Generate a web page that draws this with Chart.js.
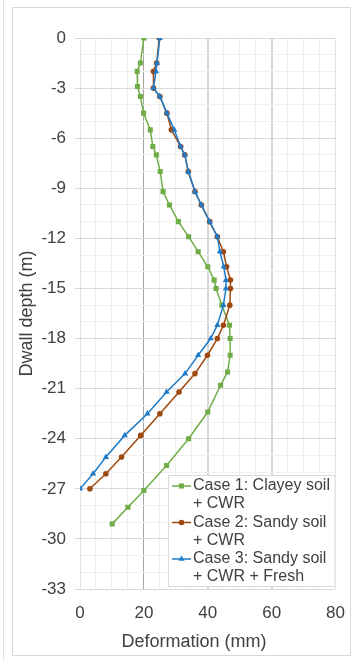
<!DOCTYPE html>
<html lang="en">
<head>
    <meta charset="UTF-8">
    <title>Dwall deformation</title>
    <style>
        body {
            margin: 0;
            background: #fff;
            font-family: "Liberation Sans", Arial, sans-serif;
        }
        .wrap {
            position: relative;
            width: 359px;
            height: 661px;
            overflow: hidden;
        }
        .edge {
            position: absolute;
            left: 3px;
            top: 0;
            bottom: 0;
            border-left: 1px solid #e3e3e3;
        }
        .frame {
            position: absolute;
            left: 12px;
            top: 7px;
            width: 337px;
            height: 647px;
            border: 1px solid #d9d9d9;
        }
        canvas {
            position: absolute;
            left: 0;
            top: 0;
        }
    </style>
    <script src="https://cdn.jsdelivr.net/npm/chart.js"></script>
</head>
<body>
    <div class="wrap">
        <div class="edge"></div>
        <div class="frame"></div>
        <canvas id="chart" width="359" height="661"></canvas>
    </div>

    <script>
        // Case 1: Clayey soil + CWR
        const depth1 = [0, -1.5, -2, -2.9, -3.5, -4.5, -5.5, -6.5, -7, -8, -9.2, -10, -11, -11.9, -12.8, -13.7, -14.5, -15, -16, -17.2, -18, -19, -20, -20.8, -22.4, -24, -25.6, -27.1, -28.1, -29.1];
        const defo1 = [20, 18.9, 17.9, 18, 18.9, 19.9, 22, 22.8, 23.9, 25.1, 26, 28, 30.8, 34, 37, 40, 42, 42.6, 44.4, 46.8, 47, 47, 46.2, 44, 40, 34, 27.1, 20, 15, 10.1];

        // Case 2 and Case 3 share the same depths
        const depth23 = [0, -1.5, -2, -3, -3.5, -4.5, -5.5, -6.5, -7, -8, -9.2, -10, -11, -11.9, -12.8, -13.7, -14.5, -15, -16, -17.2, -18, -19, -20.1, -21.2, -22.5, -23.8, -25.1, -26.1, -27];
        const defo2 = [24.8, 24, 23, 23, 25, 27.2, 28.6, 31.5, 32.8, 33.9, 36, 38, 40.6, 43, 44.9, 45.9, 47.1, 47.1, 46.9, 44.9, 43, 39.9, 36, 31, 25, 19, 13, 8.1, 3.1];
        const defo3 = [25, 24.1, 23.8, 23, 25, 27.2, 29.5, 31.5, 32.8, 33.9, 36, 38, 40.6, 43, 43.8, 45, 45.7, 45.7, 44.9, 43, 40.9, 37, 32.9, 27.1, 21.1, 14, 8.1, 4.1, 0];

        const legendLines = [
            ['Case 1: Clayey soil', '+ CWR'],
            ['Case 2: Sandy soil', '+ CWR'],
            ['Case 3: Sandy soil', '+ CWR + Fresh']
        ];

        const xTitle = 'Deformation (mm)';
        const yTitle = 'Dwall depth (m)';

        const textColor = '#404040';
        const font = '"Liberation Sans", Arial, sans-serif';

        function toPoints(xs, ys) {
            return xs.map((x, i) => ({ x: x, y: ys[i] }));
        }

        function series(label, xs, ys, color, style, radius, order) {
            return {
                label: label,
                data: toPoints(xs, ys),
                showLine: true,
                borderColor: color,
                backgroundColor: color,
                borderWidth: 1.5,
                pointStyle: style,
                pointRadius: radius,
                pointBorderWidth: 0,
                order: order
            };
        }

        // simple marker drawer for the legend
        function marker(ctx, style, x, y, r, color) {
            ctx.fillStyle = color;
            ctx.beginPath();
            if (style === 'rect') {
                const s = r * Math.SQRT1_2;
                ctx.rect(x - s, y - s, 2 * s, 2 * s);
            } else if (style === 'triangle') {
                ctx.moveTo(x, y - r);
                ctx.lineTo(x + r * 0.866, y + r * 0.5);
                ctx.lineTo(x - r * 0.866, y + r * 0.5);
                ctx.closePath();
            } else {
                ctx.arc(x, y, r, 0, Math.PI * 2);
            }
            ctx.fill();
        }

        // titles + boxed legend drawn on top of the plot
        const decorations = {
            id: 'decorations',
            afterDraw(chart) {
                const ctx = chart.ctx;
                const area = chart.chartArea;
                ctx.save();

                // axis titles
                ctx.fillStyle = textColor;
                ctx.font = '18px ' + font;
                ctx.textAlign = 'center';
                ctx.textBaseline = 'middle';
                ctx.fillText(xTitle, 194, 642);
                ctx.translate(27, (area.top + area.bottom) / 2);
                ctx.rotate(-Math.PI / 2);
                ctx.fillText(yTitle, 0, 0);
                ctx.setTransform(1, 0, 0, 1, 0, 0);

                // legend box
                const bx = 168, by = 475, bw = area.right - bx, bh = area.bottom - 2 - by;
                ctx.fillStyle = '#fff';
                ctx.fillRect(bx, by, bw, bh);
                ctx.strokeStyle = '#d9d9d9';
                ctx.lineWidth = 1;
                ctx.strokeRect(bx + 0.5, by + 0.5, bw - 1, bh - 1);

                ctx.font = '16px ' + font;
                ctx.textAlign = 'left';
                chart.data.datasets.forEach((ds, i) => {
                    const y0 = 486 + i * 36.5;
                    ctx.strokeStyle = ds.borderColor;
                    ctx.lineWidth = ds.borderWidth;
                    ctx.beginPath();
                    ctx.moveTo(172, y0);
                    ctx.lineTo(191, y0);
                    ctx.stroke();
                    marker(ctx, ds.pointStyle, 181.5, y0, ds.pointRadius, ds.backgroundColor);
                    ctx.fillStyle = textColor;
                    legendLines[i].forEach((t, j) => ctx.fillText(t, 193, y0 + j * 18));
                });
                ctx.restore();
            }
        };

        new Chart(document.getElementById('chart'), {
            type: 'scatter',
            data: {
                datasets: [
                    series(legendLines[0].join(' '), defo1, depth1, '#70AD47', 'rect', 3.6, 3),
                    series(legendLines[1].join(' '), defo2, depth23, '#9E480E', 'circle', 2.8, 2),
                    series(legendLines[2].join(' '), defo3, depth23, '#1F7BC8', 'triangle', 3.6, 1)
                ]
            },
            options: {
                responsive: false,
                animation: false,
                layout: { padding: { top: 38, right: 21, bottom: 0, left: 0 } },
                plugins: {
                    legend: { display: false },
                    tooltip: { enabled: false }
                },
                scales: {
                    x: {
                        type: 'linear',
                        min: 0,
                        max: 80,
                        afterFit: (s) => { s.height = 72; },
                        border: { display: false },
                        grid: {
                            drawTicks: false,
                            color: (c) => {
                                const v = c.tick.value;
                                if (v === 20) return '#a6a6a6';
                                if (v === 40 || v === 60) return '#d6d6d6';
                                if (v % 20 === 0) return '#e3e3e3';
                                return '#efefef';
                            },
                            lineWidth: (c) => (c.tick.value === 40 || c.tick.value === 60) ? 2 : 1
                        },
                        ticks: {
                            stepSize: 5,
                            autoSkip: false,
                            maxRotation: 0,
                            padding: 14,
                            color: textColor,
                            font: { family: font, size: 17 },
                            callback: (v) => v % 20 === 0 ? v : ''
                        }
                    },
                    y: {
                        type: 'linear',
                        min: -33,
                        max: 0,
                        afterFit: (s) => { s.width = 80; },
                        border: { display: false },
                        grid: {
                            tickLength: 5,
                            color: (c) => c.tick.value % 3 === 0 ? '#d9d9d9' : '#efefef',
                            tickColor: (c) => c.tick.value % 3 === 0 ? '#d9d9d9' : 'rgba(0,0,0,0)'
                        },
                        ticks: {
                            stepSize: 1,
                            autoSkip: false,
                            padding: 9,
                            color: textColor,
                            font: { family: font, size: 17 },
                            callback: (v) => v % 3 === 0 ? v : ''
                        }
                    }
                }
            },
            plugins: [decorations]
        });
    </script>
</body>
</html>
